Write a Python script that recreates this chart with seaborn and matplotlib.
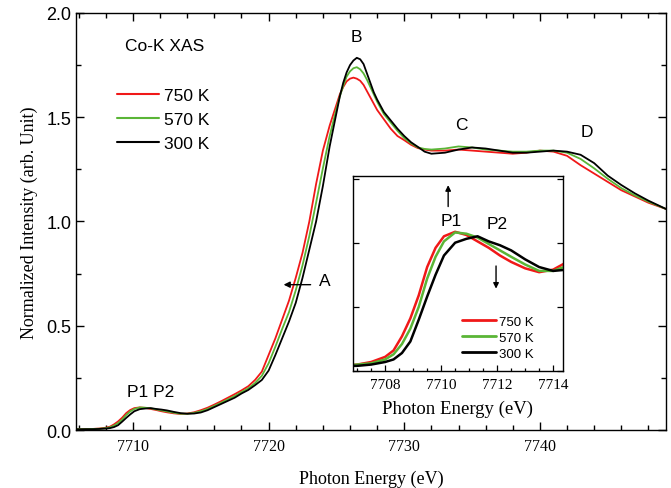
import matplotlib
matplotlib.use("Agg")
import matplotlib.pyplot as plt
import pandas as pd
import seaborn as sns
from matplotlib.ticker import MultipleLocator, NullFormatter

# ---------------- data ----------------
energy = [7705.8, 7706.5, 7707.0, 7707.5, 7708.0, 7708.3, 7708.6, 7708.9, 7709.2, 7709.5,
          7709.8, 7710.1, 7710.5, 7710.9, 7711.3, 7711.7, 7712.1, 7712.5, 7713.0, 7713.5,
          7714.0, 7714.5, 7715.0, 7715.5, 7716.0, 7716.5, 7717.0, 7717.5, 7718.0, 7718.5,
          7719.0, 7719.5, 7720.0, 7720.5, 7721.0, 7721.5, 7722.0, 7722.5, 7723.0, 7723.5,
          7724.0, 7724.5, 7725.0, 7725.25, 7725.5, 7725.75, 7726.0, 7726.25, 7726.5, 7726.75,
          7727.0, 7727.25, 7727.5, 7727.75, 7728.0, 7728.5, 7729.0, 7729.5, 7730.0, 7730.5,
          7731.0, 7731.5, 7732.0, 7733.0, 7734.0, 7735.0, 7736.0, 7737.0, 7738.0, 7739.0,
          7740.0, 7741.0, 7742.0, 7743.0, 7744.0, 7745.0, 7746.0, 7747.0, 7748.0, 7749.3]

i_750 = [0.004, 0.004, 0.005, 0.007, 0.011, 0.016, 0.027, 0.041, 0.059, 0.081,
         0.096, 0.105, 0.1085, 0.106, 0.101, 0.096, 0.090, 0.085, 0.080, 0.077,
         0.079, 0.085, 0.095, 0.107, 0.122, 0.138, 0.155, 0.172, 0.190, 0.210,
         0.240, 0.280, 0.360, 0.440, 0.530, 0.620, 0.730, 0.850, 1.000, 1.180,
         1.340, 1.460, 1.560, 1.610, 1.645, 1.672, 1.685, 1.690, 1.685, 1.675,
         1.655, 1.625, 1.595, 1.565, 1.535, 1.490, 1.445, 1.410, 1.390, 1.368,
         1.352, 1.345, 1.340, 1.340, 1.345, 1.340, 1.335, 1.330, 1.325, 1.330,
         1.340, 1.335, 1.315, 1.270, 1.230, 1.190, 1.150, 1.120, 1.090, 1.060]

i_570 = [0.004, 0.004, 0.005, 0.006, 0.009, 0.013, 0.021, 0.033, 0.050, 0.072,
         0.089, 0.101, 0.108, 0.107, 0.104, 0.099, 0.094, 0.089, 0.083, 0.078,
         0.078, 0.082, 0.090, 0.101, 0.116, 0.131, 0.147, 0.163, 0.182, 0.200,
         0.225, 0.260, 0.320, 0.400, 0.485, 0.565, 0.670, 0.790, 0.930, 1.090,
         1.255, 1.410, 1.540, 1.600, 1.650, 1.695, 1.720, 1.735, 1.740, 1.730,
         1.710, 1.680, 1.645, 1.610, 1.575, 1.515, 1.475, 1.435, 1.400, 1.375,
         1.355, 1.348, 1.345, 1.350, 1.360, 1.355, 1.345, 1.340, 1.335, 1.335,
         1.340, 1.340, 1.330, 1.300, 1.255, 1.205, 1.160, 1.125, 1.095, 1.060]

i_300 = [0.003, 0.004, 0.004, 0.005, 0.007, 0.009, 0.014, 0.023, 0.040, 0.058,
         0.075, 0.090, 0.100, 0.103, 0.105, 0.101, 0.098, 0.094, 0.087, 0.081,
         0.078, 0.079, 0.084, 0.095, 0.110, 0.125, 0.140, 0.155, 0.175, 0.192,
         0.215, 0.240, 0.285, 0.360, 0.440, 0.520, 0.610, 0.730, 0.865, 1.000,
         1.170, 1.360, 1.520, 1.600, 1.665, 1.715, 1.750, 1.772, 1.785, 1.778,
         1.755, 1.710, 1.665, 1.620, 1.585, 1.525, 1.485, 1.445, 1.410, 1.380,
         1.358, 1.335, 1.325, 1.330, 1.345, 1.355, 1.350, 1.340, 1.330, 1.330,
         1.335, 1.340, 1.335, 1.320, 1.280, 1.220, 1.175, 1.135, 1.100, 1.060]

temps = ["750 K", "570 K", "300 K"]
colors = ["#f01818", "#5ab536", "#000000"]

# ---------------- style ----------------
sns.set_theme(style="ticks", rc={
    "axes.edgecolor": "black", "xtick.color": "black", "ytick.color": "black",
    "text.color": "black", "axes.labelcolor": "black", "axes.linewidth": 1.0,
})
plt.rcParams["font.family"] = ["Liberation Serif", "DejaVu Serif"]
SANS = ["Liberation Sans", "DejaVu Sans"]

df = pd.DataFrame({
    "E": energy * 3,
    "I": i_750 + i_570 + i_300,
    "T": [t for t in temps for _ in energy],
})

fig = plt.figure(figsize=(6.71, 4.89), dpi=100)

# ---------------- main axes ----------------
ax = fig.add_axes([0.1133, 0.1186, 0.8793, 0.8528])
sns.lineplot(data=df, x="E", y="I", hue="T", hue_order=temps, palette=colors,
             estimator=None, sort=False, lw=1.3, ax=ax, legend=True)
ax.set_xlim(7705.8, 7749.3)
ax.set_ylim(0, 2.0)
ax.xaxis.set_major_locator(MultipleLocator(10))
ax.xaxis.set_minor_locator(MultipleLocator(2))
ax.yaxis.set_major_locator(MultipleLocator(0.5))
ax.yaxis.set_minor_locator(MultipleLocator(0.25))
ax.tick_params(which="both", direction="in", top=True, right=True, width=1.0)
ax.tick_params(which="major", length=5.5)
ax.tick_params(which="minor", length=3.5)
ax.tick_params(axis="x", labelsize=11.5, pad=6)
ax.tick_params(axis="y", labelsize=13)
for lbl in ax.get_yticklabels():
    lbl.set_fontfamily(SANS)
ax.set_xlabel("Photon Energy (eV)", fontsize=13, labelpad=11)
ax.set_ylabel("Normalized Intensity (arb. Unit)", fontsize=13, labelpad=6)

leg = ax.get_legend()
handles = leg.legend_handles
labels = [t.get_text() for t in leg.texts]
leg.remove()
for h in handles:
    h.set_linewidth(1.5)
ax.legend(handles, labels, loc="upper left", bbox_to_anchor=(0.0695, 0.82),
          frameon=False, borderpad=0, borderaxespad=0, handlelength=2.4,
          handletextpad=0.3, labelspacing=0.5, prop={"family": SANS, "size": 12.5})

txt = dict(family=SANS, fontsize=12.5)
ax.text(7709.4, 1.846, "Co-K XAS", ha="left", va="center", **txt)
ax.text(7726.5, 1.885, "B", ha="center", va="center", **txt)
ax.text(7734.2, 1.466, "C", ha="center", va="center", **txt)
ax.text(7743.45, 1.433, "D", ha="center", va="center", **txt)
ax.text(7724.15, 0.716, "A", ha="center", va="center", **txt)
ax.text(7711.3, 0.183, "P1 P2", ha="center", va="center", **txt)
ax.annotate("", xy=(7720.9, 0.697), xytext=(7723.3, 0.697),
            arrowprops=dict(arrowstyle="-|>", color="black", lw=1.0, mutation_scale=9))

# ---------------- inset ----------------
ax2 = fig.add_axes([0.526, 0.2393, 0.313, 0.3988])
sns.lineplot(data=df, x="E", y="I", hue="T", hue_order=temps, palette=colors,
             estimator=None, sort=False, lw=1.8, ax=ax2, legend=True)
ax2.set_xlim(7706.85, 7714.35)
ax2.set_ylim(0, 0.152)
ax2.xaxis.set_major_locator(MultipleLocator(2))
ax2.xaxis.set_minor_locator(MultipleLocator(0.5))
ax2.yaxis.set_major_locator(MultipleLocator(0.05))
ax2.yaxis.set_major_formatter(NullFormatter())
ax2.tick_params(which="both", direction="in", right=True, width=0.9)
ax2.tick_params(which="major", length=4)
ax2.tick_params(which="minor", length=2.5)
ax2.tick_params(axis="x", labelsize=11, pad=5)
ax2.set_xlabel("Photon Energy (eV)", fontsize=13.5, labelpad=6)
ax2.set_ylabel("")

leg2 = ax2.get_legend()
h2 = leg2.legend_handles
l2 = [t.get_text() for t in leg2.texts]
leg2.remove()
for h in h2:
    h.set_linewidth(2.0)
ax2.legend(h2, l2, loc="upper left", bbox_to_anchor=(0.519, 0.285),
           frameon=False, borderpad=0, borderaxespad=0, handlelength=2.6,
           handletextpad=0.2, labelspacing=0.29, prop={"family": SANS, "size": 9.5})

txt2 = dict(family=SANS, fontsize=12.5)
ax2.text(7710.36, 0.117, "P1", ha="center", va="center", **txt2)
ax2.text(7712.0, 0.115, "P2", ha="center", va="center", **txt2)
ax2.annotate("", xy=(7710.25, 0.147), xytext=(7710.25, 0.126),
             arrowprops=dict(arrowstyle="-|>", color="black", lw=1.0, mutation_scale=8))
ax2.annotate("", xy=(7711.96, 0.062), xytext=(7711.96, 0.084),
             arrowprops=dict(arrowstyle="-|>", color="black", lw=1.0, mutation_scale=8))

fig.savefig("out.png", dpi=100)
